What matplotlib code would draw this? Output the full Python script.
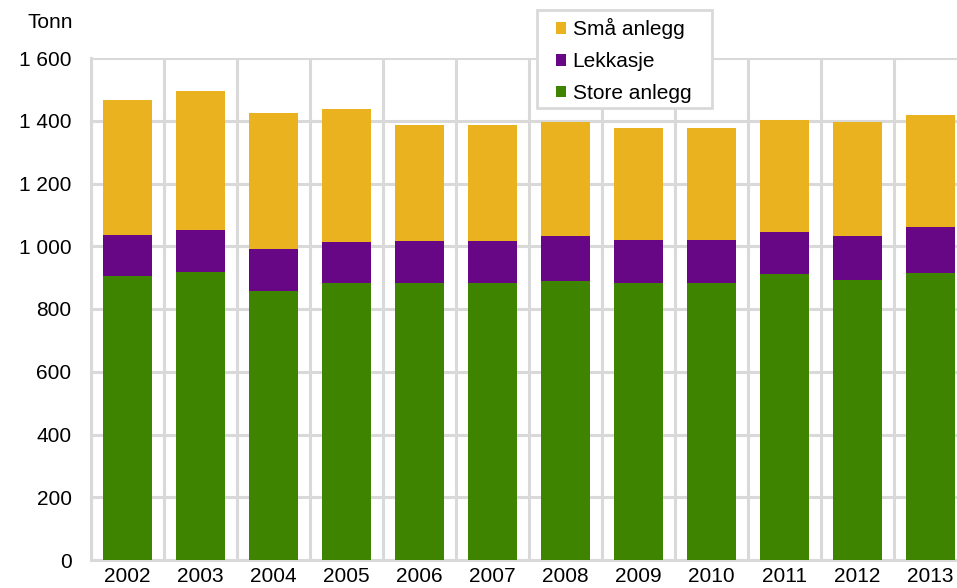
import matplotlib
matplotlib.use("Agg")
import matplotlib.pyplot as plt
from matplotlib.patches import Rectangle
import numpy as np

years = ["2002", "2003", "2004", "2005", "2006", "2007",
         "2008", "2009", "2010", "2011", "2012", "2013"]
store_anlegg = [904, 919, 858, 884, 882, 882, 890, 882, 882, 910, 894, 916]
lekkasje = [133, 134, 134, 130, 136, 135, 144, 139, 138, 137, 140, 144]
sma_anlegg = [429, 442, 432, 422, 370, 368, 361, 356, 356, 354, 361, 357]

plt.rcParams['font.family'] = ['Liberation Sans', 'DejaVu Sans']
FS = 15

W, H = 957, 588
fig = plt.figure(figsize=(W / 100, H / 100), dpi=100)
left, right, bottom, top = 91, 967, 560, 58
ax = fig.add_axes([left / W, 1 - bottom / H, (right - left) / W, (bottom - top) / H])

x = np.arange(len(years))
green = "#3f8400"
purple = "#680786"
yellow = "#ebb21f"
w = 0.68

store = np.array(store_anlegg)
lek = np.array(lekkasje)
sma = np.array(sma_anlegg)

ax.bar(x, store, w, color=green, label="Store anlegg", zorder=3)
ax.bar(x, lek, w, bottom=store, color=purple, label="Lekkasje", zorder=3)
ax.bar(x, sma, w, bottom=store + lek, color=yellow, label="Små anlegg", zorder=3)

ax.set_xlim(-0.5, len(years) - 0.5)
ax.set_ylim(0, 1600)
ax.set_yticks(range(0, 1601, 200))
ax.set_yticklabels([f"{v:,}".replace(",", " ") for v in range(0, 1601, 200)])
ax.set_xticks(x)
ax.set_xticklabels(years)

grid_c = "#d9d9d9"
for yv in range(200, 1601, 200):
    ax.axhline(yv, color=grid_c, lw=2.2, zorder=1)
for xv in np.arange(-0.5, len(years), 1.0):
    ax.axvline(xv, color=grid_c, lw=2.2, zorder=1)

for s in ["top", "right"]:
    ax.spines[s].set_visible(False)
for s in ["left", "bottom"]:
    ax.spines[s].set_color(grid_c)
    ax.spines[s].set_linewidth(2.2)
    ax.spines[s].set_zorder(1)

ax.tick_params(axis="both", length=0, labelsize=FS, colors="#000000")
ax.tick_params(axis="y", pad=14)
ax.tick_params(axis="x", pad=5)

fig.text(28 / W, 1 - 23 / H, "Tonn", fontsize=FS, va="center", ha="left")

# legend box
box = Rectangle((537 / W, 1 - 108 / H), 175 / W, 98 / H, transform=fig.transFigure,
                facecolor="white", edgecolor=grid_c, lw=2, zorder=4)
fig.patches.append(box)

handles, labels = ax.get_legend_handles_labels()
leg = fig.legend(handles[::-1], labels[::-1], loc="upper left",
                 bbox_to_anchor=(556 / W, 1 - 18 / H),
                 frameon=False, fontsize=FS,
                 handlelength=0.5, handleheight=0.5, handletextpad=0.3,
                 labelspacing=0.62, borderpad=0, borderaxespad=0)
leg.set_zorder(6)

fig.savefig("out.png", dpi=100)
